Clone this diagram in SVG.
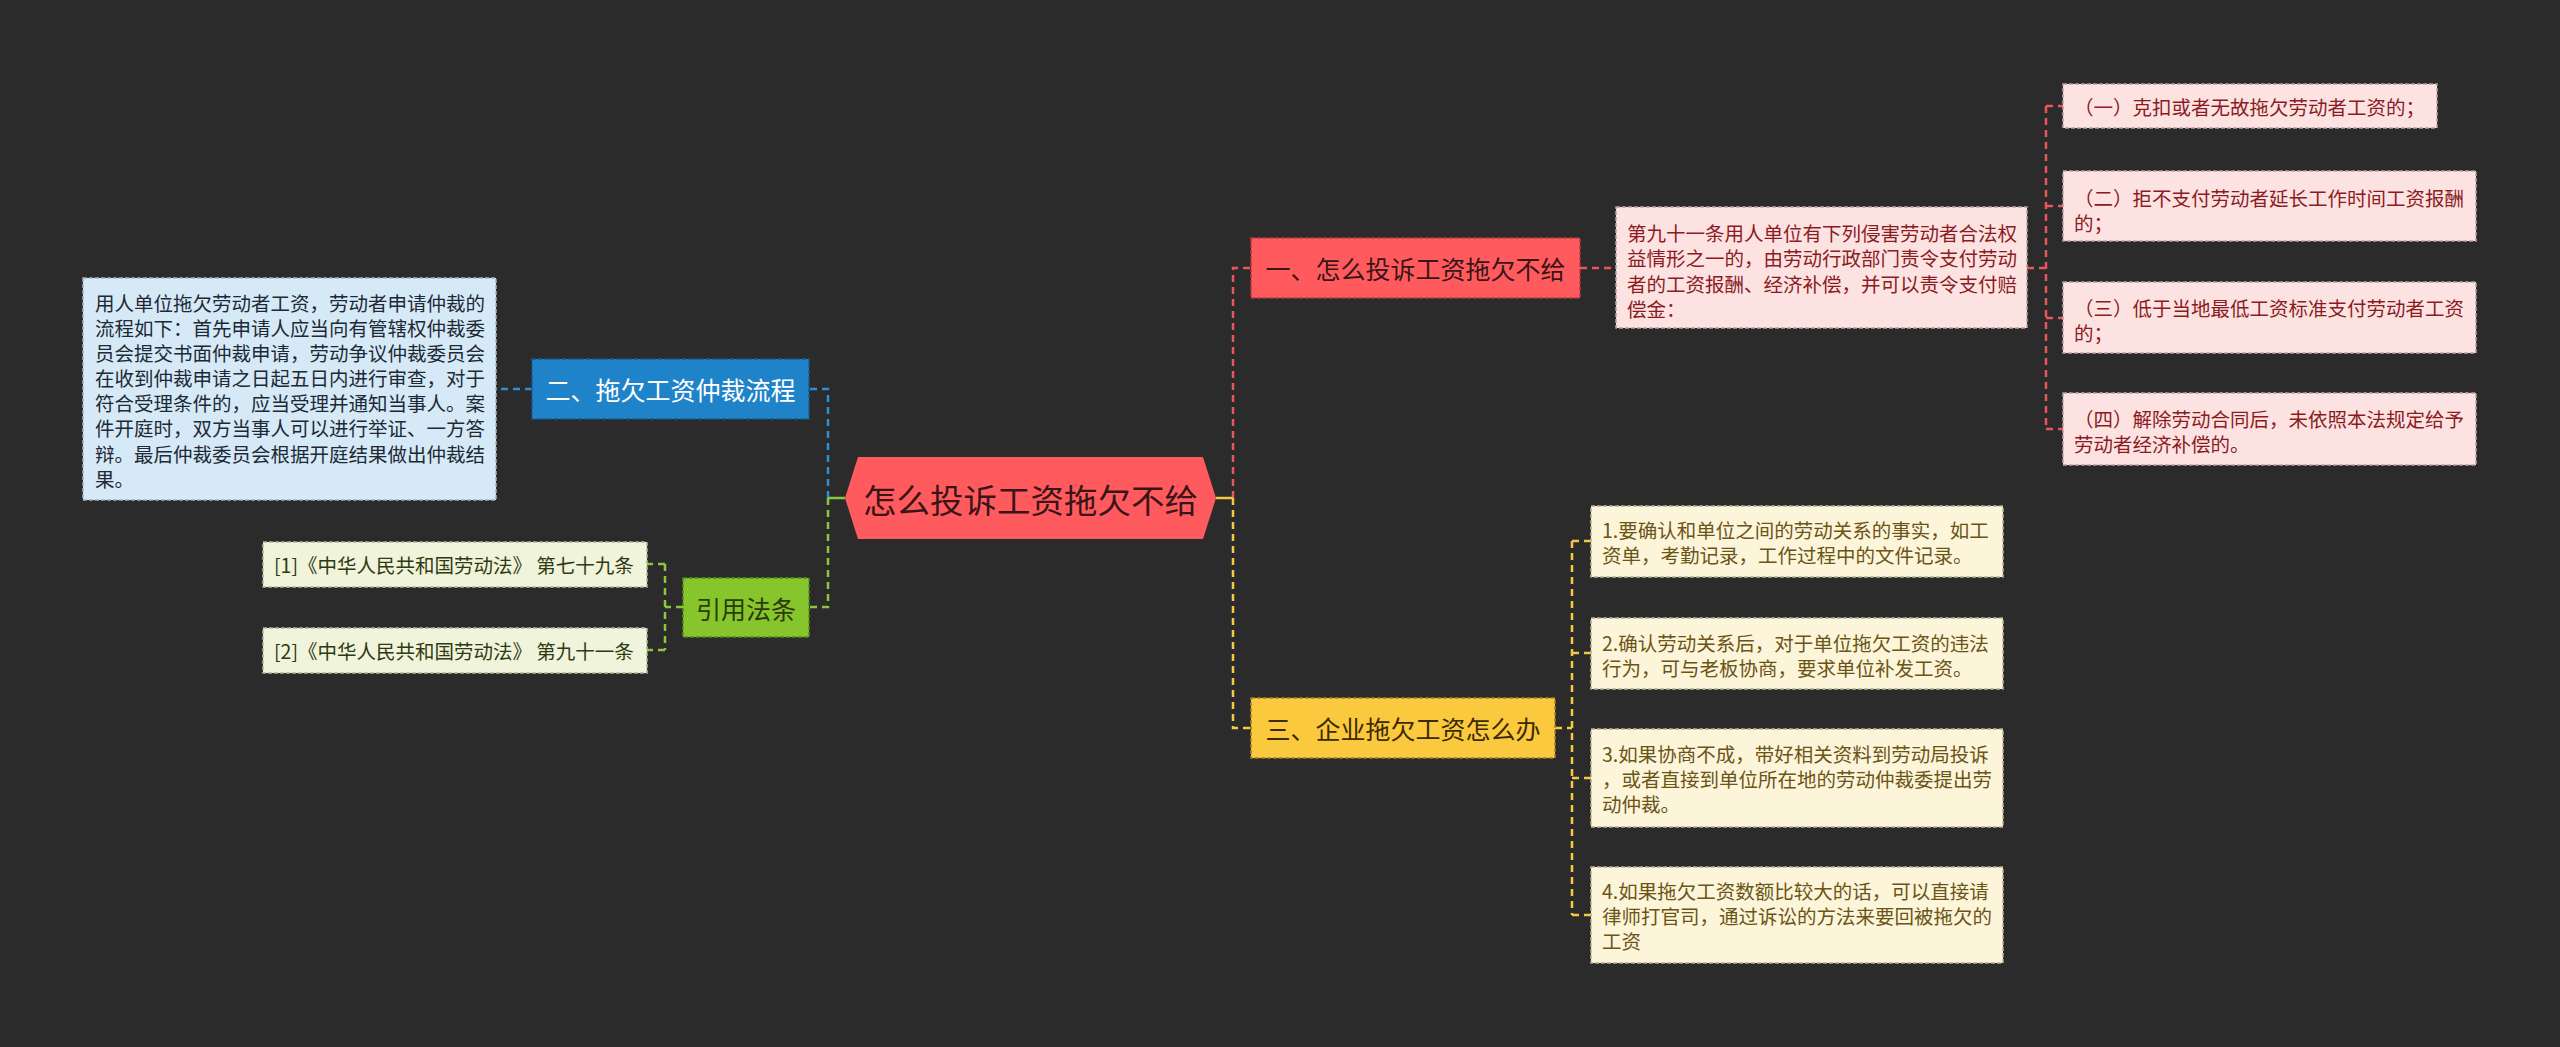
<svg xmlns="http://www.w3.org/2000/svg" width="2560" height="1047" viewBox="0 0 2560 1047">
<style>
text{font-family:"Noto Sans CJK SC","Microsoft YaHei","Noto Sans",sans-serif;dominant-baseline:central}
.sm{font-size:19.5px}
.big{font-size:25px;text-anchor:middle}
.ln{fill:none;stroke-width:2.5;stroke-dasharray:7 5}
.solid{fill:none;stroke-width:2.5}
.r{stroke:#e8565a}.y{stroke:#f5c842}.b{stroke:#2a8fd4}.g{stroke:#8cc63f}
.bx{stroke-width:1.5;stroke-dasharray:4 2}
.pink{fill:#fde2e2;stroke:#b9a0a0}
.lblue{fill:#d6e9f7;stroke:#9fb3c2}
.lgreen{fill:#eff4da;stroke:#b0b59a}
.lyel{fill:#fdf5da;stroke:#b8ae93}
.tp{fill:#8a1c1f}.tb{fill:#1d2a36}.tg{fill:#2f3a12}.ty{fill:#6a5416}
</style>
<rect x="0" y="0" width="2560" height="1047" fill="#2b2b2b"/>
<g id="connectors">
<path class="ln r" d="M1233,498 V268 H1251"/>
<path class="ln y" d="M1233,498 V728 H1251"/>
<path class="solid y" d="M1216,498 H1233"/>
<path class="ln b" d="M828,498 V389 H809"/>
<path class="ln g" d="M828,498 V607 H809"/>
<path class="solid g" d="M845,498 H828"/>
<path class="ln r" d="M1580,268 H1616"/>
<path class="ln r" d="M2027,268 H2046 M2046,106 V429 M2046,106 H2063 M2046,206 H2063 M2046,318 H2063 M2046,429 H2063"/>
<path class="ln y" d="M1555,728 H1572 M1572,541 V915 M1572,541 H1591 M1572,653 H1591 M1572,778 H1591 M1572,915 H1591"/>
<path class="ln b" d="M532,389 H496"/>
<path class="ln g" d="M683,607 H665 M665,564 V650 M665,564 H647 M665,650 H647"/>
</g>
<g id="root">
<polygon points="845,498 858,457 1203,457 1216,498 1203,539 858,539" fill="#ff5b5f"/>
<text x="1030.5" y="498" style="font-size:33.5px;text-anchor:middle" fill="#3a1416">怎么投诉工资拖欠不给</text>
</g>
<g id="n1">
<rect class="bx" x="1251" y="238" width="329" height="60" fill="#ff5b5f" stroke="#b8393c"/>
<text class="big" x="1415.5" y="268" fill="#3a1416">一、怎么投诉工资拖欠不给</text>
</g>
<g id="n1d">
<rect class="bx pink" x="1616" y="207" width="411" height="121"/>
<text class="sm tp" x="1627"><tspan x="1627" y="231.5">第九十一条用人单位有下列侵害劳动者合法权</tspan><tspan x="1627" y="257">益情形之一的，由劳动行政部门责令支付劳动</tspan><tspan x="1627" y="282.5">者的工资报酬、经济补偿，并可以责令支付赔</tspan><tspan x="1627" y="308">偿金：</tspan></text>
</g>
<g id="n1a">
<rect class="bx pink" x="2063" y="84" width="374" height="44"/>
<text class="sm tp" x="2074" y="106.5">（一）克扣或者无故拖欠劳动者工资的；</text>
</g>
<g id="n1b">
<rect class="bx pink" x="2063" y="171" width="413" height="70"/>
<text class="sm tp"><tspan x="2074" y="197">（二）拒不支付劳动者延长工作时间工资报酬</tspan><tspan x="2074" y="222">的；</tspan></text>
</g>
<g id="n1c">
<rect class="bx pink" x="2063" y="282" width="413" height="71"/>
<text class="sm tp"><tspan x="2074" y="307">（三）低于当地最低工资标准支付劳动者工资</tspan><tspan x="2074" y="332">的；</tspan></text>
</g>
<g id="n1e">
<rect class="bx pink" x="2063" y="393" width="413" height="72"/>
<text class="sm tp"><tspan x="2074" y="418">（四）解除劳动合同后，未依照本法规定给予</tspan><tspan x="2074" y="443">劳动者经济补偿的。</tspan></text>
</g>
<g id="n2">
<rect class="bx" x="532" y="359" width="277" height="60" fill="#1f83c9" stroke="#15598a"/>
<text class="big" x="670.5" y="389" fill="#ffffff">二、拖欠工资仲裁流程</text>
</g>
<g id="n2d">
<rect class="bx lblue" x="83" y="278" width="413" height="222"/>
<text class="sm tb"><tspan x="95" y="302">用人单位拖欠劳动者工资，劳动者申请仲裁的</tspan><tspan x="95" y="327">流程如下：首先申请人应当向有管辖权仲裁委</tspan><tspan x="95" y="352">员会提交书面仲裁申请，劳动争议仲裁委员会</tspan><tspan x="95" y="377">在收到仲裁申请之日起五日内进行审查，对于</tspan><tspan x="95" y="402">符合受理条件的，应当受理并通知当事人。案</tspan><tspan x="95" y="427">件开庭时，双方当事人可以进行举证、一方答</tspan><tspan x="95" y="453">辩。最后仲裁委员会根据开庭结果做出仲裁结</tspan><tspan x="95" y="478">果。</tspan></text>
</g>
<g id="n4">
<rect class="bx" x="683" y="578" width="126" height="59" fill="#86c52c" stroke="#5a8a1c"/>
<text class="big" x="746" y="607.5" fill="#2b3b0b">引用法条</text>
</g>
<g id="n4a">
<rect class="bx lgreen" x="263" y="542" width="384" height="45"/>
<text class="sm tg" x="274" y="564.5">[1]《中华人民共和国劳动法》 第七十九条</text>
</g>
<g id="n4b">
<rect class="bx lgreen" x="263" y="628" width="384" height="45"/>
<text class="sm tg" x="274" y="650.5">[2]《中华人民共和国劳动法》 第九十一条</text>
</g>
<g id="n3">
<rect class="bx" x="1251" y="698" width="304" height="60" fill="#fbc93d" stroke="#a5821f"/>
<text class="big" x="1403" y="728" fill="#3b2b00">三、企业拖欠工资怎么办</text>
</g>
<g id="n3a">
<rect class="bx lyel" x="1591" y="506" width="412" height="71"/>
<text class="sm ty"><tspan x="1602" y="529">1.要确认和单位之间的劳动关系的事实，如工</tspan><tspan x="1602" y="554">资单，考勤记录，工作过程中的文件记录。</tspan></text>
</g>
<g id="n3b">
<rect class="bx lyel" x="1591" y="618" width="412" height="71"/>
<text class="sm ty"><tspan x="1602" y="642">2.确认劳动关系后，对于单位拖欠工资的违法</tspan><tspan x="1602" y="667">行为，可与老板协商，要求单位补发工资。</tspan></text>
</g>
<g id="n3c">
<rect class="bx lyel" x="1591" y="729" width="412" height="98"/>
<text class="sm ty"><tspan x="1602" y="753">3.如果协商不成，带好相关资料到劳动局投诉</tspan><tspan x="1602" y="778">，或者直接到单位所在地的劳动仲裁委提出劳</tspan><tspan x="1602" y="803">动仲裁。</tspan></text>
</g>
<g id="n3d">
<rect class="bx lyel" x="1591" y="867" width="412" height="96"/>
<text class="sm ty"><tspan x="1602" y="890">4.如果拖欠工资数额比较大的话，可以直接请</tspan><tspan x="1602" y="915">律师打官司，通过诉讼的方法来要回被拖欠的</tspan><tspan x="1602" y="940">工资</tspan></text>
</g>
</svg>
